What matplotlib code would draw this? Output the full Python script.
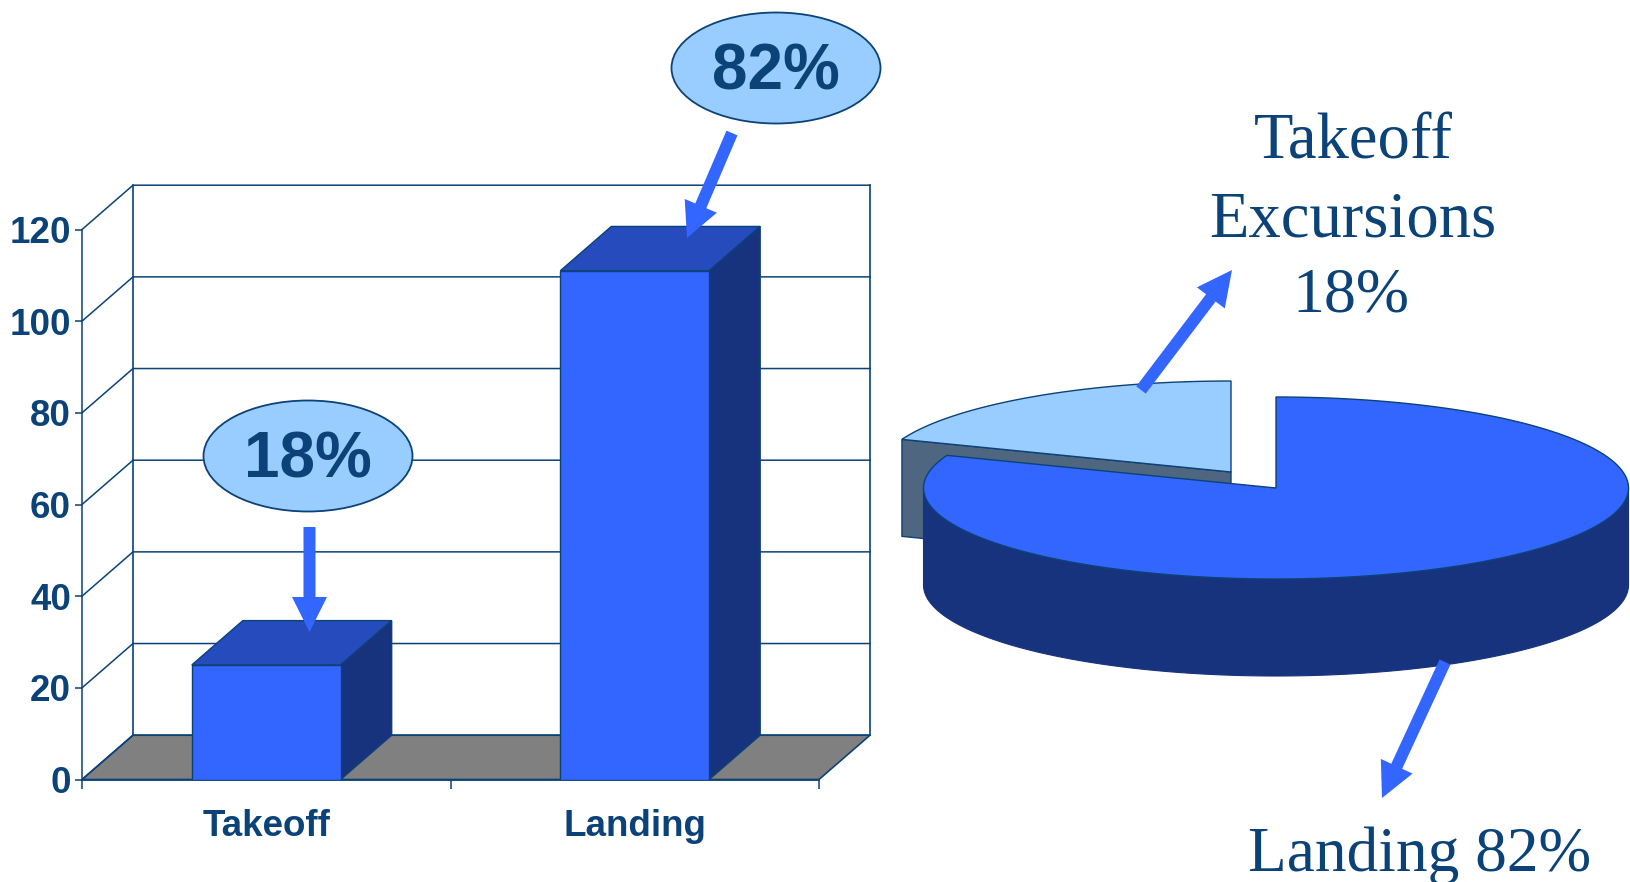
import numpy as np
import matplotlib
matplotlib.use("Agg")
import matplotlib.pyplot as plt
from matplotlib.patches import Polygon, Ellipse, FancyArrow

# Excursion counts by flight phase
categories = ["Takeoff", "Landing"]
counts = [25, 111]
y_ticks = [0, 20, 40, 60, 80, 100, 120]

total = sum(counts)
shares = [round(100 * c / total) for c in counts]

INK = "#0B4278"
FRONT = "#3366FF"
TOP = "#254BBD"
SIDE = "#17337E"
PALE = "#99CCFF"
FLOOR = "#808080"
SLATE = "#4F6680"
ARROW = "#3366FF"
SANS = ["Liberation Sans"]
SERIF = ["Liberation Serif"]

W, H = 1631, 882
fig = plt.figure(figsize=(W / 100, H / 100), dpi=100, facecolor="white")

# ---- 3-D style bar chart: the axes box is the front plane of the chart ----
x0, x1, y0, y1 = 82, 819, 779.5, 229.5
ax = fig.add_axes([x0 / W, 1 - y0 / H, (x1 - x0) / W, (y0 - y1) / H])
ax.set_xlim(0, 2)
ax.set_ylim(0, 120)
ax.patch.set_alpha(0)
for s in ax.spines.values():
    s.set_visible(False)

depth_x = 51 / ((x1 - x0) / 2)
depth_y = 44.3 / ((y0 - y1) / 120)
bar_w = 0.404

ax.add_patch(Polygon([(0, 0), (2, 0), (2 + depth_x, depth_y), (depth_x, depth_y)],
                     fc=FLOOR, ec=INK, lw=1.2, clip_on=False, zorder=1))
for t in y_ticks:
    ax.plot([0, depth_x, 2 + depth_x], [t, t + depth_y, t + depth_y],
            color=INK, lw=1.1, clip_on=False, zorder=1.5)
ax.plot([depth_x, depth_x], [depth_y, 120 + depth_y], color=INK, lw=1.2, clip_on=False, zorder=1.5)
ax.plot([2 + depth_x] * 2, [depth_y, 120 + depth_y], color=INK, lw=1.2, clip_on=False, zorder=1.5)
ax.plot([0, 0], [0, 120], color=INK, lw=1.1, clip_on=False, zorder=1.5)
ax.plot([0, 2], [0, 0], color=INK, lw=1.3, clip_on=False, zorder=1.5)

positions = np.arange(len(counts)) + 0.5
ax.bar(positions, counts, width=bar_w, color=FRONT, edgecolor=INK, linewidth=1, zorder=3)
for p, c in zip(positions, counts):
    l, r = p - bar_w / 2, p + bar_w / 2
    ax.add_patch(Polygon([(l, c), (r, c), (r + depth_x, c + depth_y), (l + depth_x, c + depth_y)],
                         fc=TOP, ec=INK, lw=1, zorder=2.5, clip_on=False))
    ax.add_patch(Polygon([(r, 0), (r + depth_x, depth_y), (r + depth_x, c + depth_y), (r, c)],
                         fc=SIDE, ec=INK, lw=1, zorder=2.5, clip_on=False))

ax.set_yticks(y_ticks)
ax.set_yticklabels([str(t) for t in y_ticks], family=SANS, fontweight="bold",
                   fontsize=26.5, color=INK)
ax.tick_params(axis="y", length=5, width=1.1, color=INK, pad=3)
ax.set_xticks([0, 1, 2])
ax.set_xticklabels([])
ax.tick_params(axis="x", which="major", length=6.5, width=1.1, color=INK)
ax.set_xticks(positions, minor=True)
ax.set_xticklabels(categories, minor=True, family=SANS, fontweight="bold",
                   fontsize=26.5, color=INK)
ax.tick_params(axis="x", which="minor", length=0, pad=21)

# ---- Overlay in figure pixels: pie, callouts and arrows ----
ov = fig.add_axes([0, 0, 1, 1])
ov.set_xlim(0, W)
ov.set_ylim(H, 0)
ov.axis("off")
ov.patch.set_alpha(0)

RX, RY, PIE_DEPTH = 352.5, 91, 97
CX, CY = 1276, 488
EX, EY = CX - 45, CY - 16  # pulled-out wedge apex


def rim(theta_deg, cx, cy):
    # slight perspective correction of the tilted disc
    t = np.radians(theta_deg + 3.8 * np.sin(2 * np.radians(theta_deg - 90)))
    return cx + RX * np.cos(t), cy - RY * np.sin(t)


start = 90.0
take_sweep = 360 * counts[0] / total
split = start + take_sweep

# pulled-out Takeoff wedge
tip = rim(split, EX, EY)
ov.add_patch(Polygon([tip, (EX, EY), (EX, EY + PIE_DEPTH), (tip[0], tip[1] + PIE_DEPTH)],
                     fc=SLATE, ec=INK, lw=1, zorder=2))
th = np.linspace(split, start, 80)
xs, ys = rim(th, EX, EY)
ov.add_patch(Polygon(np.r_[[(EX, EY)], np.c_[xs, ys]], fc=PALE, ec=INK, lw=1, zorder=3))

# Landing wedge: extruded rim first, then the top face
th = np.linspace(180, 360, 200)
xs, ys = rim(th, CX, CY)
ov.add_patch(Polygon(np.r_[np.c_[xs, ys], np.c_[xs, ys + PIE_DEPTH][::-1]],
                     fc=SIDE, ec=SIDE, lw=0.8, zorder=4))
th = np.linspace(start, split - 360, 400)
xs, ys = rim(th, CX, CY)
ov.add_patch(Polygon(np.r_[[(CX, CY)], np.c_[xs, ys]], fc=FRONT, ec=INK, lw=1, zorder=5))

# arrows: (tail x, tail y, tip x, tip y)
arrow_paths = [(309.5, 527, 309.5, 632), (732, 133, 687, 238),
               (1141, 390, 1232, 270), (1445, 662, 1382, 798)]
for xa, ya, xb, yb in arrow_paths:
    ov.add_patch(FancyArrow(xa, ya, xb - xa, yb - ya, width=12, head_width=35, head_length=35,
                            length_includes_head=True, fc=ARROW, ec="none", zorder=7))

# callouts above the bars
for (cx, cy), share in zip([(308, 456), (776, 68)], shares):
    ov.add_patch(Ellipse((cx, cy), 209, 111, fc=PALE, ec=INK, lw=1.3, zorder=8))
    ov.text(cx, cy + 5, f"{share}%", family=SANS, fontweight="bold", fontsize=46,
            color=INK, ha="center", va="center", zorder=9)

# pie labels
ov.text(1353, 143, categories[0], family=SERIF, fontsize=46.5, color=INK, ha="center", va="center")
ov.text(1353, 221, "Excursions", family=SERIF, fontsize=46.5, color=INK, ha="center", va="center")
ov.text(1351, 296, f"{shares[0]}%", family=SERIF, fontsize=46, color=INK, ha="center", va="center")
ov.text(1420, 856, f"{categories[1]} {shares[1]}%", family=SERIF, fontsize=45.5, color=INK,
        ha="center", va="center")

fig.savefig("out.png", dpi=100)
